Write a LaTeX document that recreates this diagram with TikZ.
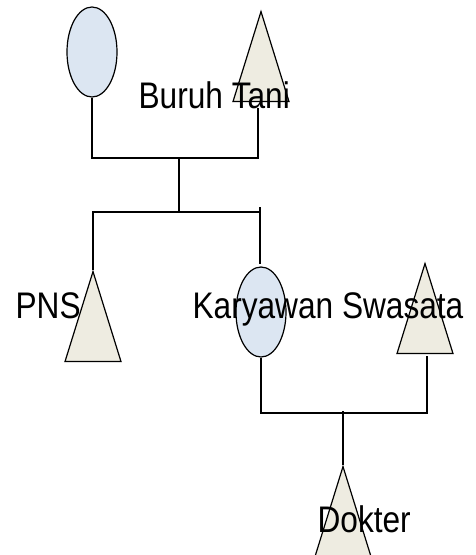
\documentclass[tikz,border=0pt]{standalone}
\usepackage{fontspec}
\setmainfont[FakeStretch=0.855]{Liberation Sans}
\usetikzlibrary{shapes.geometric}
\definecolor{femfill}{HTML}{DCE6F2}
\definecolor{malefill}{HTML}{EEECE1}
\begin{document}
\begin{tikzpicture}[x=1pt,y=-1pt,line width=1.2pt,
  female/.style={ellipse,draw=black,fill=femfill,inner sep=0pt,minimum width=50pt,minimum height=90pt},
  male/.style={isosceles triangle,isosceles triangle stretches,shape border rotate=90,draw=black,fill=malefill,inner sep=0pt,minimum width=56pt,minimum height=90pt,anchor=apex},
  lbl/.style={anchor=base west,inner sep=0pt,font=\fontsize{37}{42}\selectfont},
  link/.style={draw=black}]
\useasboundingbox (0,0) rectangle (475,555);
% junctions
\coordinate (j1) at (179,158);
\coordinate (j1r) at (258,158);
\coordinate (j1t) at (258,108);
\coordinate (j2) at (179,212);
\coordinate (j2l) at (93,212);
\coordinate (j2r) at (260,212);
\coordinate (j2rt) at (260,207);
\coordinate (j2re) at (260,264);
\coordinate (j3l) at (260,413);
\coordinate (j3r) at (427,413);
\coordinate (j3rt) at (427,356);
\coordinate (j3m) at (343,411);
% shapes
\node[female] (A) at (92,52) {};
\node[male] (B) at (261,10) {};
\node[male] (P) at (93,270) {};
\node[female] (K) at (261,312) {};
\node[male] (S) at (425,262) {};
\node[male] (D) at (343,465) {};
% connectors
\draw[link] (A.south) |- (j1r) -- (j1t);
\draw[link] (j1) -- (j2);
\draw[link] (P.apex) -- (j2l) -- (j2r);
\draw[link] (j2rt) -- (j2re);
\draw[link] (K.south) |- (j3r) -- (j3rt);
\draw[link] (j3m) -- (D.apex);
% labels
\node[lbl] (tB) at (138,108) {Buruh Tani};
\node[lbl] (tP) at (15,318) {PNS};
\node[lbl] (tK) at (192,318) {Karyawan Swasata};
\node[lbl] (tD) at (317,532) {Dokter};
\end{tikzpicture}
\end{document}
